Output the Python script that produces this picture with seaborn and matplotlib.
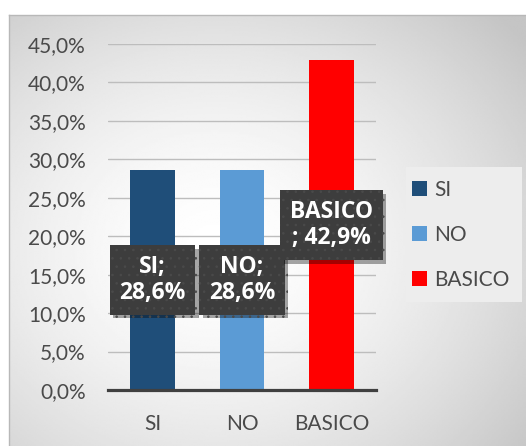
import numpy as np
import pandas as pd
import matplotlib
matplotlib.use("Agg")
import matplotlib.pyplot as plt
import matplotlib.patheffects as pe
from matplotlib.patches import Patch, Rectangle
import seaborn as sns

# Data
categories = ["SI", "NO", "BASICO"]
values = [28.6, 28.6, 42.9]
colors = ["#1f4e79", "#5b9bd5", "#ff0000"]
y_ticks = [0, 5, 10, 15, 20, 25, 30, 35, 40, 45]

sns.set_theme(style="white")
plt.rcParams["font.family"] = ["Lato", "DejaVu Sans"]
plt.rcParams["hatch.linewidth"] = 0.6

W, H = 526, 446
fig = plt.figure(figsize=(W / 100, H / 100), dpi=100)
fig.patch.set_facecolor("white")

# Chart area background: soft radial gray gradient
bg = fig.add_axes([9 / W, 0, 1 - 9 / W, (H - 15) / H])
gx, gy = np.meshgrid(np.linspace(9, W, 300), np.linspace(15, H, 260))
r = np.sqrt(((gx - 215) / 330) ** 2 + ((gy - 250) / 280) ** 2)
shade = np.clip(1.0 - 0.17 * r ** 1.6, 0.77, 1.0)
bg.imshow(shade, cmap="gray", vmin=0, vmax=1, aspect="auto",
          extent=[0, 1, 0, 1], interpolation="bilinear")
bg.set_xlim(0, 1)
bg.set_ylim(0, 1)
bg.set_xticks([])
bg.set_yticks([])
for s in ["left", "top"]:
    bg.spines[s].set_color("#b8b8b8")
    bg.spines[s].set_linewidth(1.0)
for s in ["right", "bottom"]:
    bg.spines[s].set_visible(False)

# Legend panel
fig.patches.append(Rectangle((406 / W, (H - 302) / H), 116 / W, 135 / H,
                             transform=fig.transFigure, facecolor="#ededed",
                             edgecolor="none", zorder=1))

# Plot area
ax = fig.add_axes([108 / W, (H - 390) / H, 268 / W, (390 - 44) / H])
ax.set_facecolor("none")

df = pd.DataFrame({"cat": categories, "val": values})
sns.barplot(data=df, x="cat", y="val", hue="cat", palette=colors,
            width=0.5, dodge=False, legend=False, ax=ax, zorder=3,
            saturation=1, linewidth=0, edgecolor="none")

ax.set_xlim(-0.5, len(categories) - 0.5)
ax.set_ylim(0, 45)
ax.set_yticks(y_ticks)
ax.set_yticklabels([f"{t:.1f}%".replace(".", ",") for t in y_ticks])
ax.set_xlabel("")
ax.set_ylabel("")

ax.yaxis.grid(True, color="#bdbdbd", linewidth=1.0, zorder=0)
ax.set_axisbelow(True)
for s in ["left", "top", "right"]:
    ax.spines[s].set_visible(False)
ax.spines["bottom"].set_color("#404040")
ax.spines["bottom"].set_linewidth(2.3)
ax.spines["bottom"].set_zorder(4)

ax.tick_params(axis="y", length=0, pad=16, labelsize=15, labelcolor="#4a4a4a")
ax.tick_params(axis="x", which="major", length=0, pad=17, labelsize=15,
               labelcolor="#4a4a4a")
ax.set_xticks(np.arange(-0.5, len(categories)), minor=True)
ax.tick_params(axis="x", which="minor", direction="out", length=6,
               width=2.3, color="#404040")

# Data labels
for i, (c, v) in enumerate(zip(categories, values)):
    pct = f"{v:.1f}%".replace(".", ",")
    txt = f"{c};\n{pct}" if len(c) < 5 else f"{c}\n; {pct}"
    t = ax.text(i, v / 2, txt, ha="center", va="center", color="white",
                fontsize=16.5, fontweight="bold", linespacing=1.15, zorder=6,
                family=["Open Sans", "DejaVu Sans"],
                bbox=dict(boxstyle="square,pad=0.42", facecolor="#3d3d3d",
                          edgecolor="#4a4a4a", linewidth=0, hatch=".."))
    t.get_bbox_patch().set_path_effects(
        [pe.SimplePatchShadow(offset=(2.5, -2.5), shadow_rgbFace="black",
                              alpha=0.35), pe.Normal()])

# Legend
handles = [Patch(facecolor=col, edgecolor="none") for col in colors]
leg = fig.legend(handles, categories, loc="upper left",
                 bbox_to_anchor=(412 / W, (H - 180) / H),
                 frameon=False, fontsize=15, handlelength=0.7,
                 handleheight=0.7, handletextpad=0.35, labelspacing=1.2,
                 borderaxespad=0, borderpad=0)
for tx in leg.get_texts():
    tx.set_color("#4a4a4a")

fig.savefig("out.png", dpi=100)
